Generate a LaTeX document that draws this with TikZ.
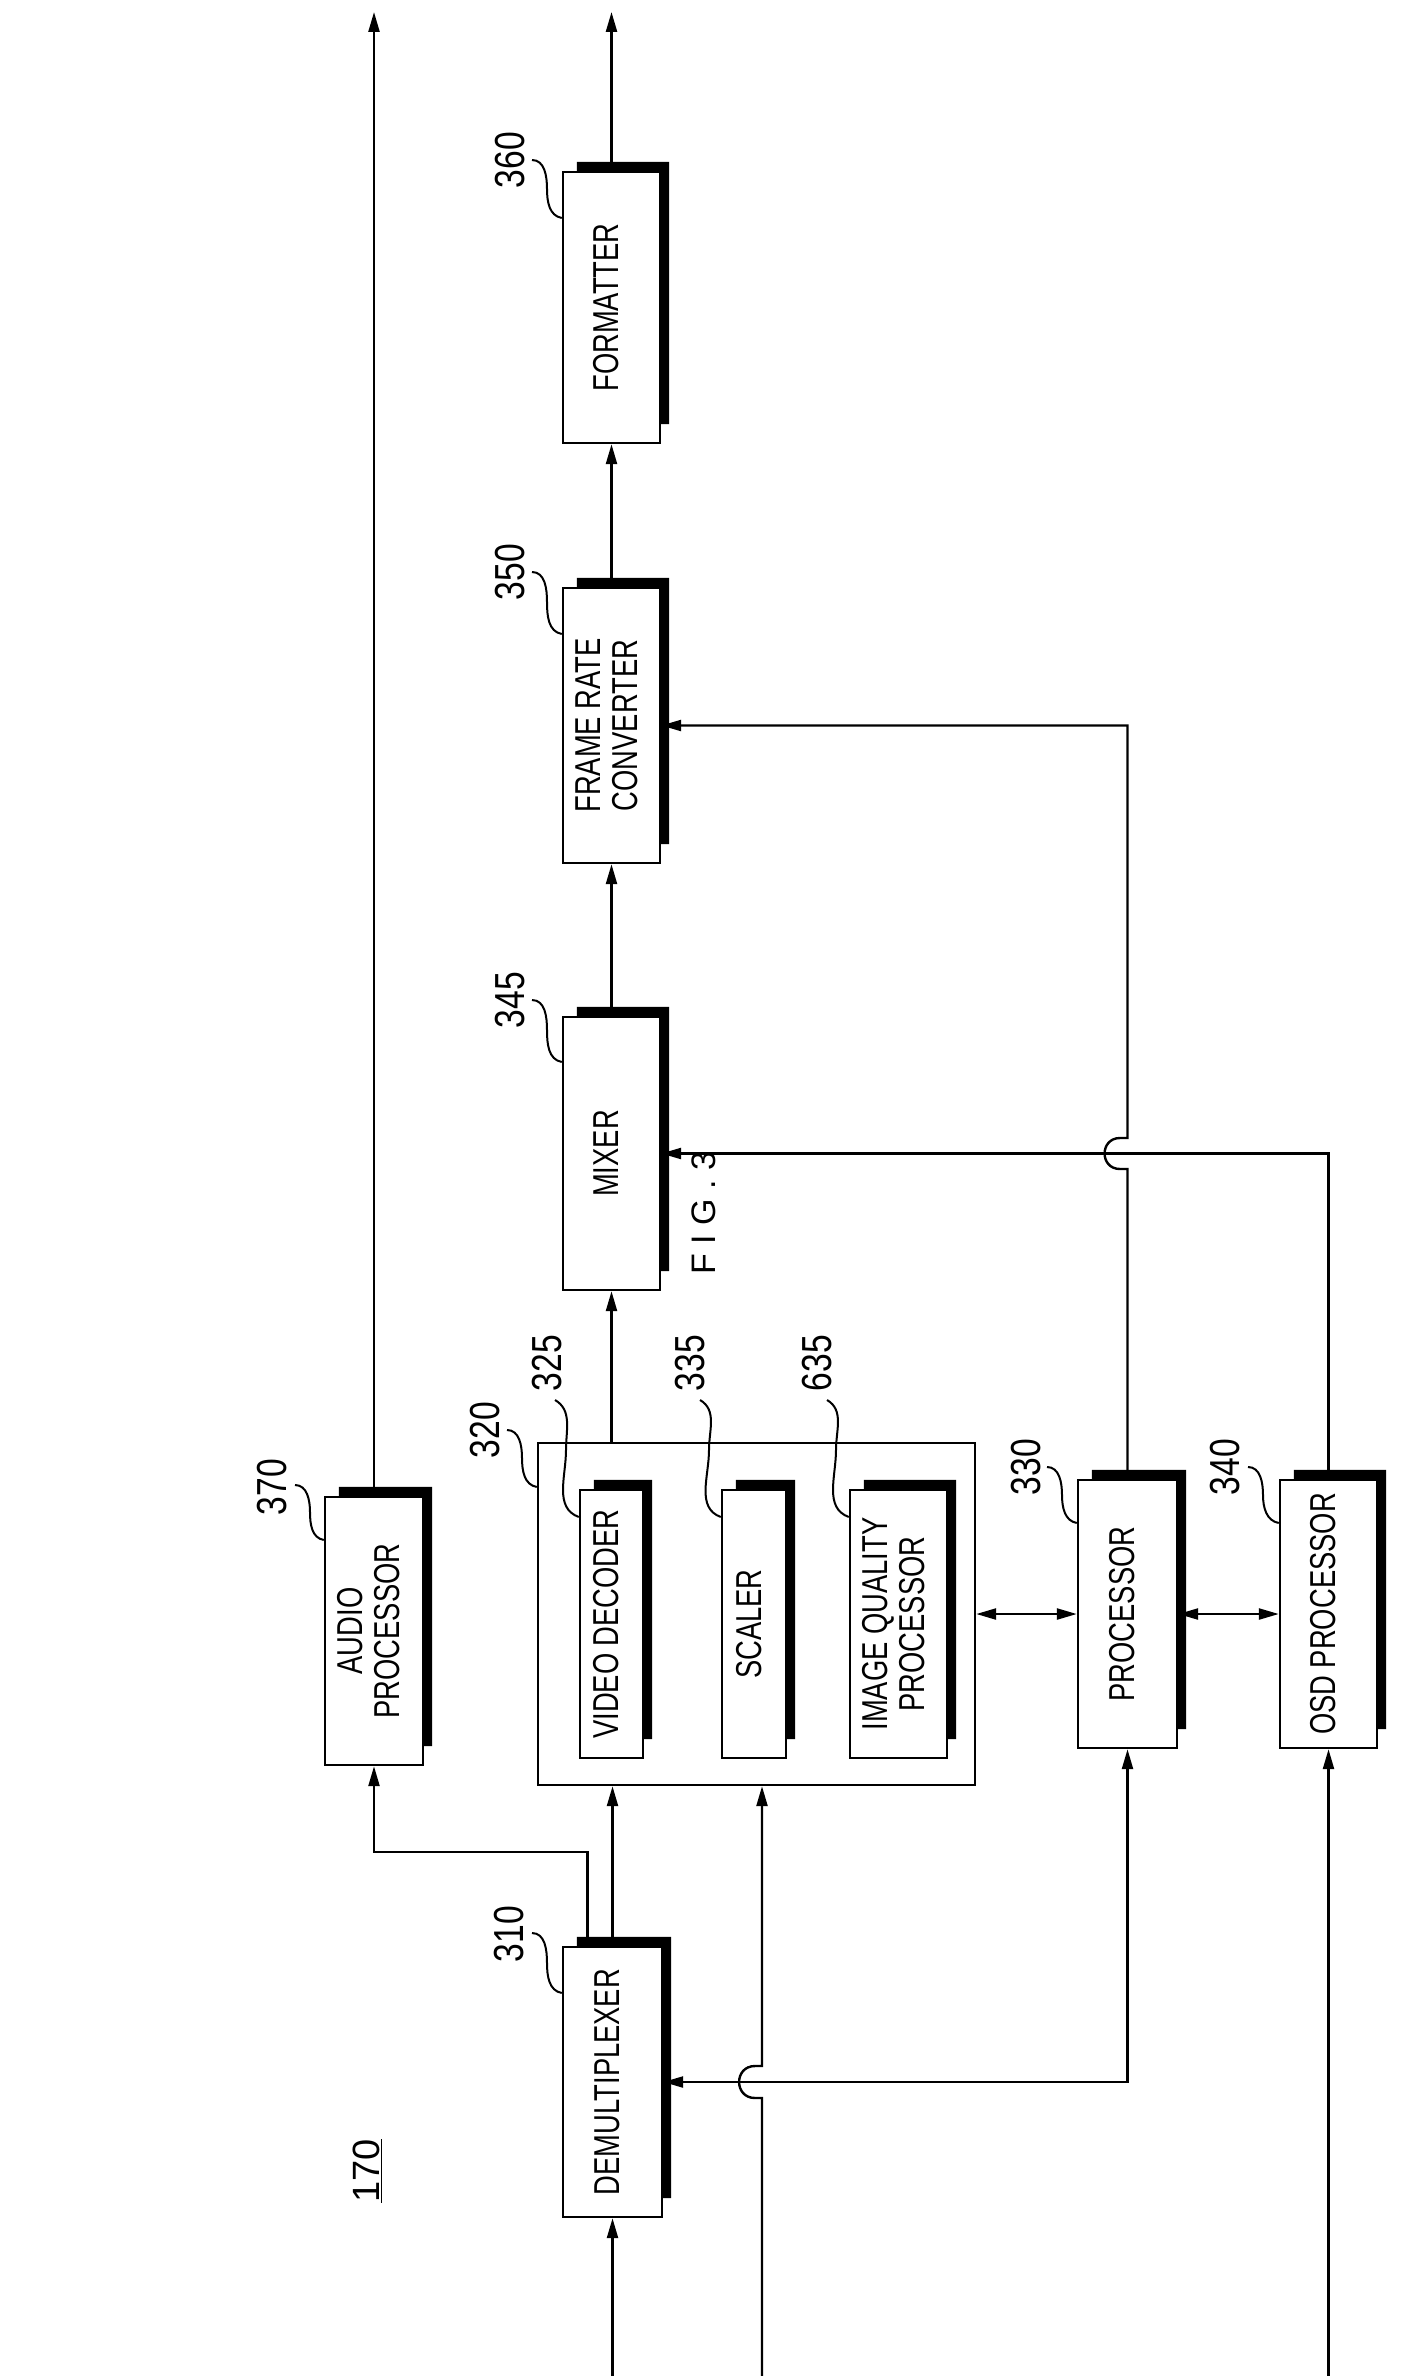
\documentclass[tikz,border=0pt]{standalone}
\usepackage{fontspec}
\setmainfont{Liberation Sans}
\usetikzlibrary{arrows.meta,calc}
\newcommand{\bt}[1]{\rotatebox{90}{\scalebox{0.76}[1]{\fontsize{36}{37}\selectfont\begin{tabular}{@{}c@{}}#1\end{tabular}}}}
\newcommand{\nt}[1]{\rotatebox{90}{\scalebox{0.8}[1]{\fontsize{42}{42}\selectfont #1}}}
\newcommand{\blk}[6]{%
  \node[box,minimum width=#4pt,minimum height=#5pt] (#1) at (#2,#3) {#6};
  \fill ($(#1.north west)+(15,-9)$) -- ($(#1.north east)+(8,-9)$) -- ($(#1.south east)+(8,-20)$) -- ($(#1.south east)+(0,-20)$) -- (#1.north east) -- ($(#1.north west)+(15,0)$) -- cycle;}
\begin{document}
\begin{tikzpicture}[x=1pt,y=-1pt,
  box/.style={draw,line width=2.4pt,inner sep=0pt,rectangle},
  ln/.style={line width=2.4pt},
  ar/.style={ln,-{Triangle[length=20pt,width=11pt]}},
  ba/.style={ln,{Triangle[length=20pt,width=11pt]}-{Triangle[length=20pt,width=11pt]}},
  ld/.style={line width=2pt}]
\useasboundingbox (0,0) rectangle (1407,2376);
\node[box,minimum width=437pt,minimum height=342pt] (big) at (756.5,1614) {};
\blk{dmx}{612.5}{2082}{99}{270}{\bt{DEMULTIPLEXER}}
\blk{aud}{374}{1631}{98}{268}{\bt{AUDIO\\PROCESSOR}}
\blk{vd}{611.5}{1624}{63}{268}{\bt{VIDEO DECODER}}
\blk{sc}{754}{1624}{64}{268}{\bt{SCALER}}
\blk{iqp}{898.5}{1624}{97}{268}{\bt{IMAGE QUALITY\\PROCESSOR}}
\blk{proc}{1127.5}{1614}{99}{268}{\bt{PROCESSOR}}
\blk{osd}{1328.5}{1614}{97}{268}{\bt{OSD PROCESSOR}}
\blk{mix}{611.5}{1153.5}{97}{273}{\bt{MIXER}}
\blk{frc}{611.5}{725.5}{97}{275}{\bt{FRAME RATE\\CONVERTER}}
\blk{fmt}{611.5}{307.5}{97}{271}{\bt{FORMATTER}}
\node (fig) at (704,1213) {\rotatebox{90}{\fontsize{34}{34}\selectfont F I G . 3}};
\node (ref) at (367,2171) {\rotatebox{90}{\fontsize{38}{38}\selectfont\underline{170}}};
\coordinate (i1) at (612.5,2376);
\coordinate (i2) at (762,2376);
\coordinate (i3) at (1328.5,2376);
\coordinate (o1) at (374,12);
\coordinate (o2) at (611.5,12);
\draw[ar] (i1) -- (dmx.south);
\draw[ar] (dmx.north) -- (dmx.north |- big.south);
\draw[ar] ($(dmx.north)+(-25,0)$) -- ++(0,-94) -| (aud.south);
\draw[ar] (aud.north) -- (o1);
\draw[ar] (i2) -- (762,2098) -- (755,2098) to[out=180,in=180,looseness=1.7] (755,2066) -- (762,2066) -- (i2 |- big.south);
\draw[ba] (dmx.east) -- (proc.south |- dmx.east) -- (proc.south);
\draw[ba] (big.east) -- (proc.west);
\draw[ba] (proc.east) -- (osd.west);
\draw[ar] (i3) -- (osd.south);
\draw[ar] (osd.north) |- (mix.east);
\draw[ar] (proc.north) -- (1127.5,1169) -- (1120,1169) to[out=180,in=180,looseness=1.7] (1120,1138) -- (1127.5,1138) |- (frc.east);
\draw[ar] (mix.south |- big.north) -- (mix.south);
\draw[ar] (mix.north) -- (frc.south);
\draw[ar] (frc.north) -- (fmt.south);
\draw[ar] (fmt.north) -- (o2);
\node (n310) at (509,1934) {\nt{310}};
\draw[ld] (532,1933) to[out=0,in=90] (547,1963) to[out=-90,in=170] (dmx.north west |- 0,1993);
\node (n370) at (272,1487) {\nt{370}};
\draw[ld] (295,1485) to[out=0,in=90] (310,1512) to[out=-90,in=170] (aud.north west |- 0,1540);
\node (n320) at (485,1430) {\nt{320}};
\draw[ld] (507,1430) to[out=0,in=90] (522,1458) to[out=-90,in=170] (big.north west |- 0,1487);
\node (n325) at (547,1363) {\nt{325}};
\draw[ld] (555,1400) to[out=-30,in=90] (566,1450) to[out=-90,in=160] (vd.north west |- 0,1517);
\node (n335) at (690,1363) {\nt{335}};
\draw[ld] (700,1400) to[out=-30,in=90] (709,1450) to[out=-90,in=160] (sc.north west |- 0,1517);
\node (n635) at (817,1363) {\nt{635}};
\draw[ld] (827,1400) to[out=-30,in=90] (836,1450) to[out=-90,in=160] (iqp.north west |- 0,1517);
\node (n330) at (1026,1467) {\nt{330}};
\draw[ld] (1047,1467) to[out=0,in=90] (1062,1495) to[out=-90,in=170] (proc.north west |- 0,1523);
\node (n340) at (1225,1467) {\nt{340}};
\draw[ld] (1248,1467) to[out=0,in=90] (1263,1495) to[out=-90,in=170] (osd.north west |- 0,1523);
\node (n345) at (510,1000) {\nt{345}};
\draw[ld] (532,1000) to[out=0,in=90] (547,1030) to[out=-90,in=170] (mix.north west |- 0,1062);
\node (n350) at (510,572) {\nt{350}};
\draw[ld] (532,572) to[out=0,in=90] (547,602) to[out=-90,in=170] (frc.north west |- 0,634);
\node (n360) at (510,160) {\nt{360}};
\draw[ld] (532,160) to[out=0,in=90] (547,189) to[out=-90,in=170] (fmt.north west |- 0,218);
\end{tikzpicture}
\end{document}
